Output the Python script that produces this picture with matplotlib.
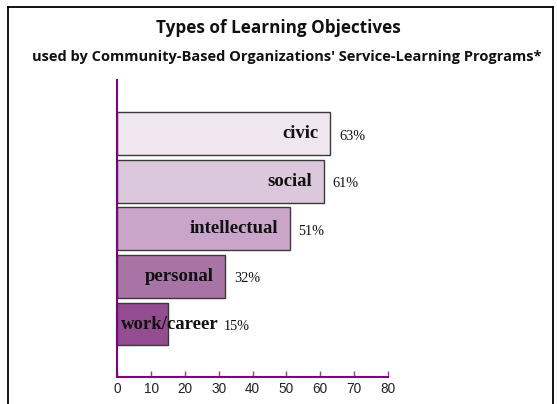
import matplotlib
matplotlib.use("Agg")
import matplotlib.pyplot as plt
from matplotlib.lines import Line2D

categories = ["work/career", "personal", "intellectual", "social", "civic"]
values = [15, 32, 51, 61, 63]
colors = ["#934D90", "#A874A5", "#C9A6C9", "#DCC8DC", "#EFE6EF"]
xticks = [0, 10, 20, 30, 40, 50, 60, 70, 80]

title = "Types of Learning Objectives"
subtitle = "used by Community-Based Organizations' Service-Learning Programs*"

fig = plt.figure(figsize=(5.57, 4.04), dpi=100)
ax = fig.add_axes([0.2106, 0.0676, 0.4855, 0.7344])

y = list(range(len(categories)))
ax.barh(y, values, height=0.9, color=colors, edgecolor="#3a3a3a", linewidth=1.0, zorder=2)

for i, (cat, v) in enumerate(zip(categories, values)):
    if v >= 25:
        ax.text(v - 3.5, i, cat, ha="right", va="center", family="Liberation Serif",
                fontweight="bold", fontsize=13.5, color="#111111", zorder=3)
    else:
        ax.text(1.2, i, cat, ha="left", va="center", family="Liberation Serif",
                fontweight="bold", fontsize=13.5, color="#111111", zorder=3)
    lx = max(v, 29) + 2.6
    ax.text(lx, i - 0.05, f"{v}%", ha="left", va="center", family="Liberation Serif",
            fontsize=10.3, color="#111111", zorder=3)

ax.set_xlim(0, 80)
ax.set_ylim(-1.107, 5.128)
ax.set_xticks(xticks)
ax.set_xticklabels([str(t) for t in xticks], family="Liberation Sans", fontsize=9.8, color="#222222")
ax.set_yticks([])
ax.tick_params(axis="x", direction="in", length=4, width=1, color="#9a3a9a", pad=4)
for s in ["top", "right"]:
    ax.spines[s].set_visible(False)
for s in ["left", "bottom"]:
    ax.spines[s].set_color("#800080")
    ax.spines[s].set_linewidth(1.5)

fig.text(0.5, 0.9307, title, ha="center", va="center", family="Open Sans",
         fontweight="bold", fontsize=12.3, color="#111111")
fig.text(0.515, 0.859, subtitle, ha="center", va="center", family="Open Sans",
         fontweight="bold", fontsize=10.5, color="#111111")

# frame
lw = 1.3
fig.add_artist(Line2D([0.0135, 0.0135], [-0.01, 0.9827], transform=fig.transFigure, color="black", lw=lw))
fig.add_artist(Line2D([0.9937, 0.9937], [-0.01, 0.9827], transform=fig.transFigure, color="black", lw=lw))
fig.add_artist(Line2D([0.0135, 0.9937], [0.9827, 0.9827], transform=fig.transFigure, color="black", lw=lw))

fig.savefig("out.png", dpi=100)
